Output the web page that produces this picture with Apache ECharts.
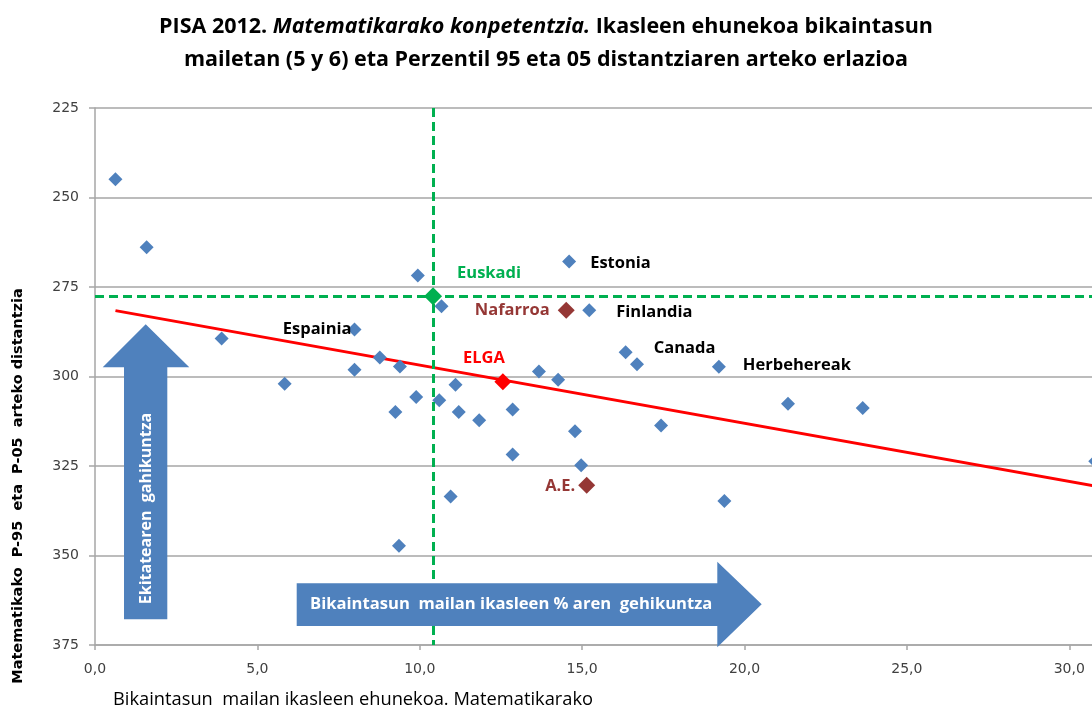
<!DOCTYPE html>
<html>
<head>
<meta charset="utf-8">
<script src="https://cdn.jsdelivr.net/npm/echarts@6/dist/echarts.min.js"></script>
<style>
html,body{margin:0;padding:0;background:#fff;}
#chart{width:1092px;height:715px;}
</style>
</head>
<body>
<div id="chart"></div>
<script>
// herrialdeak (izenik gabekoak)
const blueX = [0.63, 1.59, 3.90, 5.84, 7.99, 8.77, 9.25, 9.36, 9.39, 9.89, 9.94, 10.60, 10.67, 10.95, 11.10,
    11.20, 11.83, 12.86, 12.86, 13.67, 14.26, 14.78, 14.97, 16.69, 17.43, 19.38, 21.34, 23.64, 30.80];
const blueY = [244.9, 263.9, 289.4, 302.0, 298.1, 294.7, 309.9, 347.3, 297.2, 305.7, 271.8, 306.6, 280.4, 333.5, 302.3,
    309.9, 312.2, 309.2, 321.8, 298.6, 300.9, 315.3, 324.8, 296.6, 313.7, 334.8, 307.6, 308.8, 323.7];
// izendun herrialdeak
const namedBlue = ['Espainia', 'Estonia', 'Finlandia', 'Canada', 'Herbehereak'];
const namedBlueX = [7.99, 14.60, 15.22, 16.34, 19.21];
const namedBlueY = [286.9, 267.9, 281.5, 293.2, 297.3];
const euskadi = [10.41, 277.6];
const elga = [12.56, 301.5];
const nafarroa = [14.51, 281.5];
const ae = [15.14, 330.4];
// joera lerroa
const trendX = [0.63, 30.8];
const trendY = [281.6, 330.6];
const yTicks = [225, 250, 275, 300, 325, 350, 375];

const BLUE = '#4f81bd', GREEN = '#00b050', RED = '#ff0000', BROWN = '#953735';
const labelFont = '"Open Sans"';

const namedLabel = {
    Espainia: {position: 'left', offset: [4, 0]},
    Estonia: {position: 'right', offset: [14, 2]},
    Finlandia: {position: 'right', offset: [20, 2]},
    Canada: {position: 'right', offset: [21, -4]},
    Herbehereak: {position: 'right', offset: [17, -2]}
};

function lbl(text, color, cfg) {
    return {
        show: true,
        formatter: text,
        position: cfg.position,
        distance: 0,
        offset: cfg.offset,
        color: color,
        fontFamily: labelFont,
        fontWeight: 'bold',
        fontSize: 16.5
    };
}

const chart = echarts.init(document.getElementById('chart'));
chart.setOption({
    animation: false,
    title: {
        left: 'center',
        top: 5,
        text: '{b|PISA 2012. }{i|Matematikarako konpetentzia.}{b| Ikasleen ehunekoa bikaintasun}\n{b|mailetan (5 y 6) eta Perzentil 95 eta 05 distantziaren arteko erlazioa}',
        textStyle: {
            rich: {
                b: {fontFamily: labelFont, fontWeight: 'bold', fontSize: 21.5, color: '#000', lineHeight: 33},
                i: {fontFamily: labelFont, fontWeight: 'bold', fontStyle: 'italic', fontSize: 21.5, color: '#000', lineHeight: 33}
            }
        }
    },
    grid: {left: 95, top: 108, right: 0, height: 537},
    xAxis: {
        type: 'value',
        min: 0,
        max: 30.7,
        interval: 5,
        splitLine: {show: false},
        axisLine: {show: true, lineStyle: {color: '#a6a6a6', width: 1.5}},
        axisTick: {show: true, length: 5, lineStyle: {color: '#a6a6a6', width: 1.5}},
        axisLabel: {
            color: '#404040',
            fontFamily: 'DejaVu Sans',
            fontSize: 14,
            margin: 17,
            showMaxLabel: false,
            formatter: function (v) {
                return v % 5 === 0 ? v.toFixed(1).replace('.', ',') : '';
            }
        }
    },
    yAxis: {
        type: 'value',
        inverse: true,
        min: yTicks[0],
        max: yTicks[yTicks.length - 1],
        interval: 25,
        splitLine: {show: true, lineStyle: {color: '#a6a6a6', width: 1.5}},
        axisLine: {show: true, lineStyle: {color: '#a6a6a6', width: 1.5}},
        axisTick: {show: true, length: 6, lineStyle: {color: '#a6a6a6', width: 1.5}},
        axisLabel: {color: '#404040', fontFamily: 'DejaVu Sans', fontSize: 14, margin: 16}
    },
    series: [
        {
            type: 'line',
            data: trendX.map((x, i) => [x, trendY[i]]),
            symbol: 'none',
            lineStyle: {color: RED, width: 3},
            z: 3
        },
        {
            type: 'scatter',
            symbol: 'diamond',
            symbolSize: 14,
            clip: false,
            itemStyle: {color: BLUE, opacity: 1},
            data: blueX.map((x, i) => [x, blueY[i]]),
            z: 4
        },
        {
            type: 'scatter',
            symbol: 'diamond',
            symbolSize: 14,
            itemStyle: {color: BLUE, opacity: 1},
            data: namedBlue.map((n, i) => ({
                value: [namedBlueX[i], namedBlueY[i]],
                label: lbl(n, '#000', namedLabel[n])
            })),
            z: 4
        },
        {
            type: 'scatter',
            symbol: 'diamond',
            symbolSize: 18,
            itemStyle: {color: GREEN, opacity: 1},
            data: [{value: euskadi, label: lbl('Euskadi', GREEN, {position: 'right', offset: [15, -23]})}],
            markLine: {
                silent: true,
                symbol: 'none',
                label: {show: false},
                lineStyle: {color: GREEN, width: 3, type: [9, 5]},
                data: [{xAxis: euskadi[0]}, {yAxis: euskadi[1]}]
            },
            z: 5
        },
        {
            type: 'scatter',
            symbol: 'diamond',
            symbolSize: 17,
            itemStyle: {color: RED, opacity: 1},
            data: [{value: elga, label: lbl('ELGA', RED, {position: 'top', offset: [-19, -7]})}],
            z: 5
        },
        {
            type: 'scatter',
            symbol: 'diamond',
            symbolSize: 17,
            itemStyle: {color: BROWN, opacity: 1},
            data: [
                {value: nafarroa, label: lbl('Nafarroa', BROWN, {position: 'left', offset: [-8, 0]})},
                {value: ae, label: lbl('A.E.', BROWN, {position: 'left', offset: [-3, 1]})}
            ],
            z: 5
        }
    ],
    graphic: [
        {
            type: 'polygon',
            z: 100,
            shape: {points: [[145.7, 324.3], [189.3, 367.3], [167.3, 367.3], [167.3, 619.3], [124, 619.3], [124, 367.3], [102.7, 367.3]]},
            style: {fill: BLUE}
        },
        {
            type: 'text',
            z: 101,
            x: 146, y: 508.5,
            rotation: Math.PI / 2,
            style: {
                text: 'Ekitatearen  gahikuntza',
                fill: '#fff',
                font: 'bold 16px "Open Sans"',
                textAlign: 'center',
                textVerticalAlign: 'middle'
            }
        },
        {
            type: 'polygon',
            z: 100,
            shape: {points: [[296.7, 583.3], [717.3, 583.3], [717.3, 561.7], [761.7, 604.3], [717.3, 647.3], [717.3, 626], [296.7, 626]]},
            style: {fill: BLUE}
        },
        {
            type: 'text',
            z: 101,
            x: 310, y: 604,
            style: {
                text: 'Bikaintasun  mailan ikasleen % aren  gehikuntza',
                fill: '#fff',
                font: 'bold 16.6px "Open Sans"',
                textAlign: 'left',
                textVerticalAlign: 'middle'
            }
        },
        {
            type: 'text',
            x: 18.5, y: 486,
            rotation: Math.PI / 2,
            style: {
                text: 'Matematikako  P-95  eta  P-05  arteko distantzia',
                fill: '#000',
                font: 'bold 14.5px "DejaVu Sans"',
                textAlign: 'center',
                textVerticalAlign: 'middle'
            }
        },
        {
            type: 'text',
            x: 113, y: 700,
            style: {
                text: 'Bikaintasun  mailan ikasleen ehunekoa. Matematikarako',
                fill: '#000',
                font: '18.3px "Open Sans"',
                textAlign: 'left',
                textVerticalAlign: 'middle'
            }
        }
    ]
});
window.addEventListener('resize', function () {
    chart.resize();
});
</script>
</body>
</html>
